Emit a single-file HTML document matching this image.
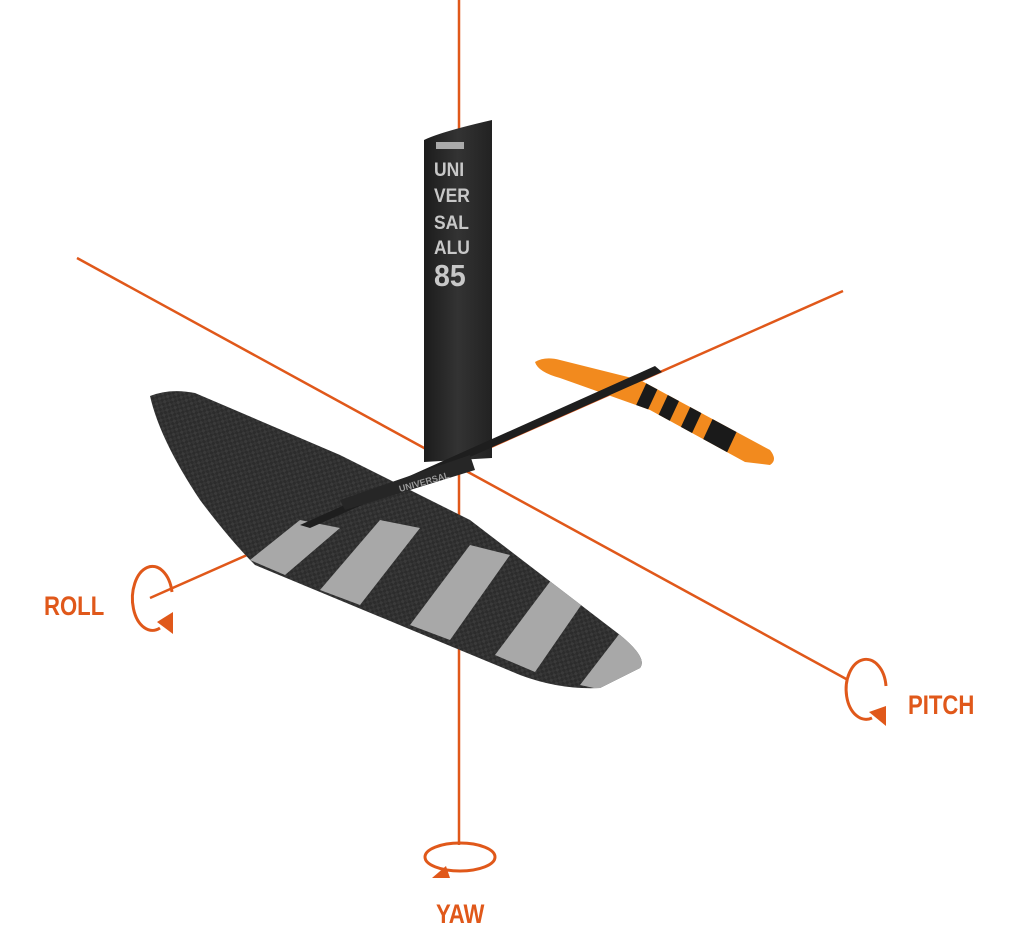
<!DOCTYPE html>
<html><head><style>
html,body{margin:0;padding:0;background:#fff;}
svg{display:block}
.lbl{font-family:"Liberation Sans",sans-serif;font-size:27px;fill:#e0581a;}
</style></head><body>
<svg width="1024" height="928" viewBox="0 0 1024 928" xmlns="http://www.w3.org/2000/svg">
<defs>
<pattern id="carb" width="6" height="6" patternUnits="userSpaceOnUse" patternTransform="rotate(30)">
<rect width="6" height="6" fill="#2c2c2c"/><rect width="3" height="3" fill="#3a3a3a"/><rect x="3" y="3" width="3" height="3" fill="#353535"/>
</pattern>
<linearGradient id="mastg" x1="0" x2="1"><stop offset="0" stop-color="#1c1c1c"/><stop offset="0.5" stop-color="#333"/><stop offset="1" stop-color="#222"/></linearGradient>
<clipPath id="wingclip"><path d="M150,396 Q170,388 195,393 L340,455 L470,520 L620,635 Q648,658 640,668 L600,688 Q560,690 520,675 L255,565 Q230,540 200,500 Q160,440 150,396 Z"/></clipPath>
<clipPath id="stabclip"><path d="M535,362 Q545,356 560,360 L640,380 L770,450 Q778,460 770,465 L745,462 L650,410 L560,378 Q538,372 535,362 Z"/></clipPath>
</defs>
<g stroke="#e0581a" stroke-width="2.5" fill="none">
<line x1="459" y1="0" x2="459" y2="845"/>
<line x1="77" y1="258" x2="848" y2="680"/>
<line x1="150" y1="598" x2="843" y2="291"/>
</g>
<path d="M424,140 Q440,132 492,120 L492,458 L424,462 Z" fill="url(#mastg)"/>
<rect x="436" y="142" width="28" height="7" fill="#aaa"/>
<g font-family="Liberation Sans,sans-serif" font-weight="bold" font-size="19" fill="#c8c8c8" transform="translate(434 0) scale(0.92 1) translate(-434 0)">
<text x="434" y="176">UNI</text><text x="434" y="202">VER</text><text x="434" y="229">SAL</text><text x="434" y="254">ALU</text>
<text x="434" y="286" font-size="31">85</text></g>
<g clip-path="url(#stabclip)">
<rect x="520" y="340" width="280" height="140" fill="#f28a1e"/>
<g fill="#1a1a1a" transform="skewX(-25)">
<rect x="825" y="360" width="14" height="120"/><rect x="852" y="360" width="14" height="120"/><rect x="880" y="360" width="14" height="120"/><rect x="908" y="360" width="30" height="120"/>
</g></g>
<g clip-path="url(#wingclip)">
<rect x="130" y="380" width="540" height="320" fill="url(#carb)"/>
<g fill="#a8a8a8">
<polygon points="250,560 300,520 340,528 285,575"/>
<polygon points="320,590 380,520 420,528 360,605"/>
<polygon points="410,625 470,545 510,555 450,640"/>
<polygon points="495,655 555,575 595,585 535,672"/>
<polygon points="580,685 630,620 680,640 650,700"/>
</g></g>
<path d="M300,525 L655,366 L662,372 L310,528 Z" fill="#1e1e1e"/>
<path d="M340,500 L470,455 L475,470 L345,510 Z" fill="#262626"/>
<text x="400" y="492" font-family="Liberation Sans,sans-serif" font-size="9" font-weight="bold" fill="#999" transform="rotate(-16 400 492)">UNIVERSAL</text>
<g stroke="#e0581a" stroke-width="3" fill="none">
<path d="M172,592 A20,32 0 1 0 160,628"/>
<path d="M886,686 A20,30 0 1 0 872,718"/>
<ellipse cx="460" cy="857" rx="35" ry="14"/>
</g>
<g fill="#e0581a">
<polygon points="157,622 173,612 173,634"/>
<polygon points="869,712 886,706 886,726"/>
<polygon points="446,866 432,878 450,878"/>
</g>
<g font-weight="bold">
<text class="lbl" x="44" y="615" transform="translate(44 0) scale(0.82 1) translate(-44 0)">ROLL</text>
<text class="lbl" x="908" y="714" transform="translate(908 0) scale(0.82 1) translate(-908 0)">PITCH</text>
<text class="lbl" x="436" y="923" transform="translate(436 0) scale(0.82 1) translate(-436 0)">YAW</text>
</g>
</svg>
</body></html>
